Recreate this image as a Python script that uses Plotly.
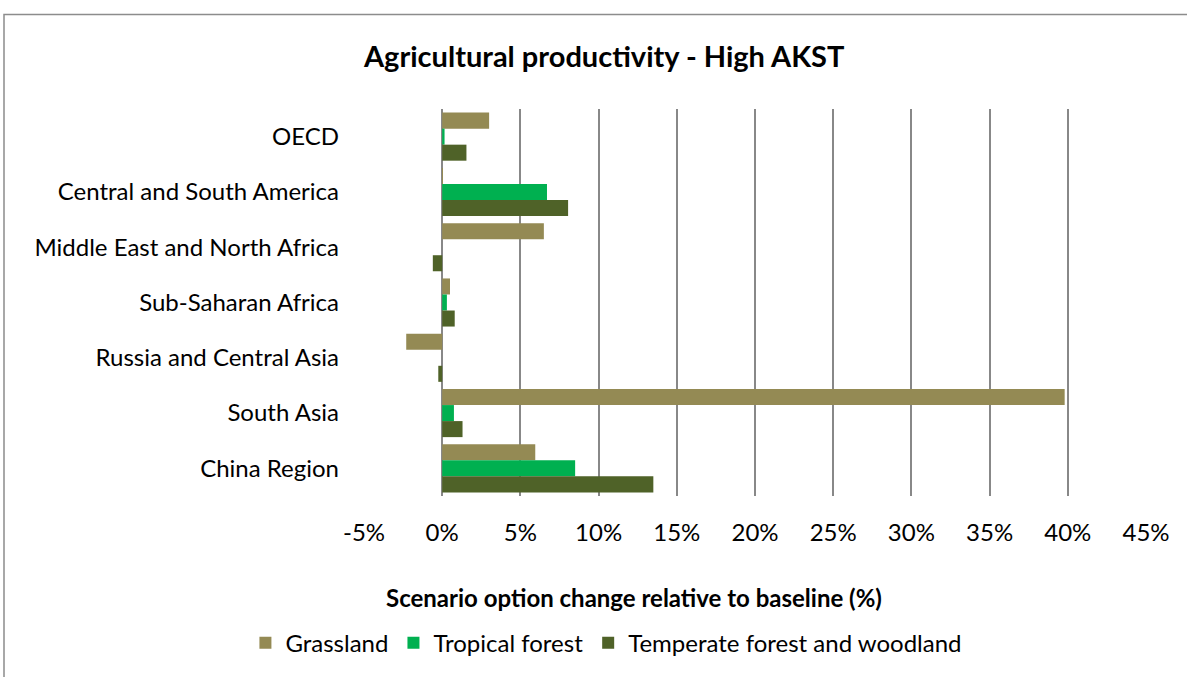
import plotly.graph_objects as go

# Regions, listed top to bottom
regions = [
    "OECD",
    "Central and South America",
    "Middle East and North Africa",
    "Sub-Saharan Africa",
    "Russia and Central Asia",
    "South Asia",
    "China Region",
]

# Change relative to baseline (%) per land type
grassland = [3.0, 0.05, 6.5, 0.5, -2.3, 39.8, 5.95]
tropical_forest = [0.15, 6.7, 0.0, 0.3, 0.0, 0.75, 8.5]
temperate_forest = [1.55, 8.05, -0.6, 0.8, -0.25, 1.3, 13.5]

x_ticks = list(range(-5, 50, 5))
x_tick_labels = [f"{v}%" for v in x_ticks]

series = [
    ("Grassland", grassland, "#948A54"),
    ("Tropical forest", tropical_forest, "#00B050"),
    ("Temperate forest and woodland", temperate_forest, "#4F6228"),
]

FONT = "Lato"
BASE = 24

fig = go.Figure()
for name, values, color in series:
    fig.add_trace(go.Bar(
        y=regions,
        x=values,
        name=name,
        orientation="h",
        marker=dict(color=color, line=dict(width=0)),
    ))

fig.update_layout(
    width=1187,
    height=677,
    barmode="group",
    bargap=0.13,
    bargroupgap=0,
    plot_bgcolor="white",
    paper_bgcolor="white",
    font=dict(family=FONT, size=BASE, color="#000000"),
    margin=dict(l=364, r=41, t=109, b=179),
    title=dict(
        text="<b>Agricultural productivity - High AKST</b>",
        font=dict(family=FONT, size=29, color="#000000"),
        x=0.509, xanchor="center",
        y=1 - 57 / 677, yanchor="middle",
    ),
    xaxis=dict(
        range=[-5, 45],
        tickvals=x_ticks,
        ticktext=x_tick_labels,
        showgrid=True,
        gridcolor="#888888",
        gridwidth=2,
        zeroline=True,
        zerolinecolor="#888888",
        zerolinewidth=2,
        showline=False,
        ticks="",
        ticklabelstandoff=20,
        tickfont=dict(family=FONT, size=BASE),
    ),
    yaxis=dict(
        autorange="reversed",
        showgrid=False,
        showline=False,
        ticks="",
        ticklabelstandoff=24,
        tickfont=dict(family=FONT, size=BASE),
    ),
    legend=dict(
        orientation="h",
        x=0.31, xanchor="center",
        y=-0.38, yanchor="middle",
        font=dict(family=FONT, size=BASE),
        itemwidth=30,
        traceorder="normal",
    ),
    showlegend=True,
)

# Axis title below the tick labels
fig.add_annotation(
    text="<b>Scenario option change relative to baseline (%)</b>",
    xref="paper", yref="paper",
    x=(634 - 364) / 782, y=(498 - 600) / 389,
    xanchor="center", yanchor="middle",
    showarrow=False,
    font=dict(family=FONT, size=24, color="#000000"),
)

# Chart frame
fig.add_shape(
    type="rect",
    xref="paper", yref="paper",
    x0=(4 - 364) / 782, x1=1.2,
    y0=-0.6, y1=(498 - 14) / 389,
    line=dict(color="#8C8C8C", width=1.5),
    fillcolor="rgba(0,0,0,0)",
    layer="below",
)

fig.write_html("out.html")
